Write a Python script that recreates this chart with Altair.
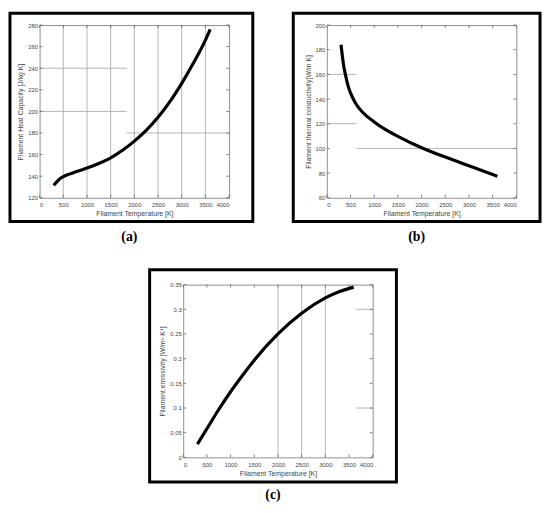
import altair as alt
import pandas as pd

# ---------------- data ----------------
# (a) heat capacity
temp_a = [300, 400, 500, 600, 700, 850, 1000, 1250, 1500, 1750, 2000, 2250, 2500, 2750, 3000, 3250, 3500, 3600]
heat_capacity = [131.5, 136.5, 139.5, 141.5, 143, 145.2, 147.5, 151.8, 157, 164, 172.5, 182.5, 194.5, 209, 226, 245, 266, 276]
# (b) thermal conductivity
temp_b = [300, 350, 400, 450, 500, 600, 750, 1000, 1250, 1500, 2000, 2500, 3000, 3600]
conductivity = [184, 168.5, 158.5, 150.5, 145, 137, 129.5, 121.5, 115, 109.8, 100.5, 93, 86, 77.5]
# (c) emissivity
temp_c = [300, 500, 750, 1000, 1250, 1500, 2000, 2500, 3000, 3300, 3600]
emissivity = [0.027, 0.058, 0.097, 0.133, 0.166, 0.197, 0.25, 0.292, 0.323, 0.336, 0.345]

x_ticks = [0, 500, 1000, 1500, 2000, 2500, 3000, 3500, 4000]
y_ticks_a = [120, 140, 160, 180, 200, 220, 240, 260, 280]
y_ticks_b = [60, 80, 100, 120, 140, 160, 180, 200]
y_ticks_c = [0, 0.05, 0.1, 0.15, 0.2, 0.25, 0.3, 0.35]

x_title = "Filament Temperature [K]"
y_title_a = "Filament Heat Capacity [J/kg K]"
y_title_b = "Filament thermal conductivity[W/m K]"
y_title_c = "Filament emissivity [W/m²·K⁴]"
panel_labels = ["(a)", "(b)", "(c)"]

# partial grid lines (as seen in the reference)
vgrid_a = [500, 1000, 1500, 2000, 2500, 3000, 3500]
hgrid_a_y = [240, 200, 180]
hgrid_a_from = [0, 0, 1840]
hgrid_a_to = [1840, 1840, 4000]

vgrid_b = []
hgrid_b_y = [160, 120, 100]
hgrid_b_from = [0, 0, 630]
hgrid_b_to = [630, 630, 4000]

vgrid_c = [2000, 2500, 3000]
hgrid_c_y = [0.3, 0.1]
hgrid_c_from = [3650, 3650]
hgrid_c_to = [4000, 4000]

W, H = 192, 175
GRID = "#ababab"
TICK = "#666666"


def panel(temps, values, ydom, yticks, yfmt, ytitle, vgrid, hy, hfrom, hto, label,
          box_l, box_r, box_t, box_b, label_dy):
    xs = alt.Scale(domain=[0, 4000], nice=False, zero=False)
    ys = alt.Scale(domain=ydom, nice=False, zero=False)
    xa = alt.Axis(values=x_ticks, format="d", title=x_title)
    ya = alt.Axis(values=yticks, format=yfmt, title=ytitle)
    layers = []

    df = pd.DataFrame({"T": temps, "v": values})
    curve = alt.Chart(df).mark_line(color="black", strokeWidth=3.2, strokeCap="butt",
                                    interpolate="monotone").encode(
        x=alt.X("T:Q", scale=xs, axis=xa),
        y=alt.Y("v:Q", scale=ys, axis=ya))

    if vgrid:
        vdf = pd.DataFrame({"gx": vgrid, "gy1": [ydom[0]] * len(vgrid), "gy2": [ydom[1]] * len(vgrid)})
        layers.append(alt.Chart(vdf).mark_rule(color=GRID, strokeWidth=0.9).encode(
            x=alt.X("gx:Q", scale=xs, axis=xa),
            y=alt.Y("gy1:Q", scale=ys, axis=ya),
            y2="gy2:Q"))
    hdf = pd.DataFrame({"hy": hy, "hx1": hfrom, "hx2": hto})
    layers.append(alt.Chart(hdf).mark_rule(color=GRID, strokeWidth=0.9).encode(
        x=alt.X("hx1:Q", scale=xs, axis=xa), x2="hx2:Q",
        y=alt.Y("hy:Q", scale=ys, axis=ya)))

    # inward ticks on all four sides
    xt = pd.DataFrame({"xt": x_ticks})
    yt = pd.DataFrame({"yt": yticks})
    layers.append(alt.Chart(xt).mark_rule(color=TICK, strokeWidth=0.8).encode(
        x=alt.X("xt:Q", scale=xs, axis=xa), y=alt.value(H), y2=alt.value(H - 3)))
    layers.append(alt.Chart(xt).mark_rule(color=TICK, strokeWidth=0.8).encode(
        x=alt.X("xt:Q", scale=xs, axis=xa), y=alt.value(0), y2=alt.value(3)))
    layers.append(alt.Chart(yt).mark_rule(color=TICK, strokeWidth=0.8).encode(
        y=alt.Y("yt:Q", scale=ys, axis=ya), x=alt.value(0), x2=alt.value(3)))
    layers.append(alt.Chart(yt).mark_rule(color=TICK, strokeWidth=0.8).encode(
        y=alt.Y("yt:Q", scale=ys, axis=ya), x=alt.value(W), x2=alt.value(W - 3)))

    layers.append(curve)

    one = pd.DataFrame({"label": [label]})
    layers.append(alt.Chart(one).mark_rect(fillOpacity=0, stroke="black", strokeWidth=3).encode(
        x=alt.value(box_l), x2=alt.value(W + box_r), y=alt.value(box_t), y2=alt.value(H + box_b)))
    layers.append(alt.Chart(one).mark_text(font="Liberation Serif", fontSize=14, fontWeight="bold",
                                           color="black", baseline="middle").encode(
        x=alt.value(91), y=alt.value(H + label_dy), text="label:N"))

    return alt.layer(*layers).properties(width=W, height=H)


pa = panel(temp_a, heat_capacity, [120, 280], y_ticks_a, "d", y_title_a, vgrid_a,
           hgrid_a_y, hgrid_a_from, hgrid_a_to, panel_labels[0], -30, 24, -12, 24, 40)
pb = panel(temp_b, conductivity, [60, 200], y_ticks_b, "d", y_title_b, vgrid_b,
           hgrid_b_y, hgrid_b_from, hgrid_b_to, panel_labels[1], -34, 24, -12, 24, 40)
pc = panel(temp_c, emissivity, [0, 0.35], y_ticks_c, ".2~f", y_title_c, vgrid_c,
           hgrid_c_y, hgrid_c_from, hgrid_c_to, panel_labels[2], -34, 24, -15, 25, 38)

chart = alt.vconcat(
    alt.hconcat(pa, pb, spacing=37),
    pc,
    spacing=23,
    center=True,
).properties(padding=0).configure(background="white").configure_view(
    stroke="#8f8f8f", strokeWidth=1
).configure_axis(
    labelFont="Liberation Sans", labelFontSize=6, labelColor="#444444",
    titleFont="Liberation Sans", titleFontSize=7, titleFontWeight="normal", titleColor="#444444",
    domain=False, ticks=False, grid=False,
).configure_axisX(labelPadding=4, titlePadding=2).configure_axisY(labelPadding=2, titlePadding=4)

chart.save("out.html", embed_options={"renderer": "svg", "actions": False})
